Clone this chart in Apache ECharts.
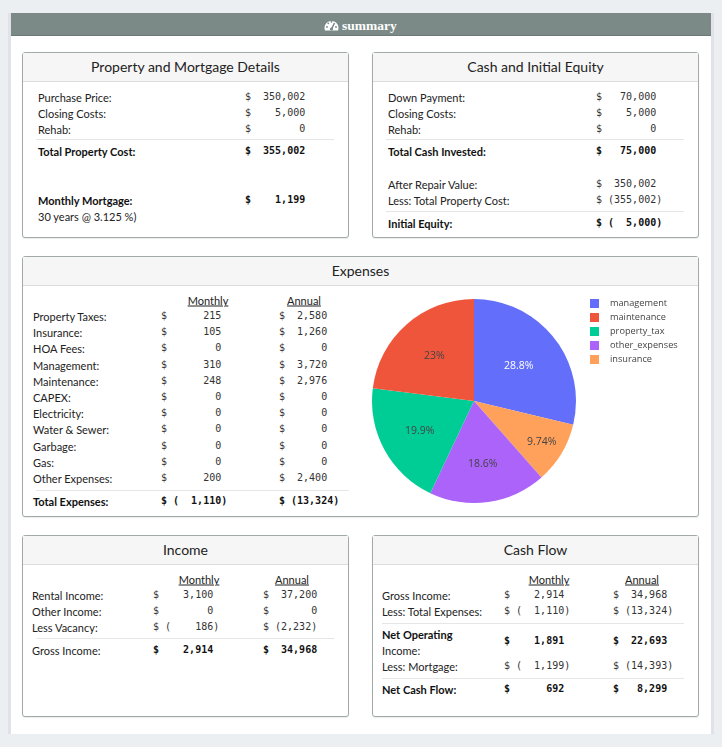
<!DOCTYPE html>
<html>
<head lang="en">
    <meta charset="UTF-8">
    <title>summary</title>
    <script src="https://cdn.jsdelivr.net/npm/echarts@6/dist/echarts.min.js"></script>
    <style>
        body{margin:0;width:722px;height:747px;background:#eceff1;position:relative;overflow:hidden;font-family:Lato,"Noto Sans",sans-serif;color:#222;}
        #panel{position:absolute;left:8px;top:13px;width:706px;height:721px;background:#fff;border-left:3px solid #e0e1e9;border-right:3px solid #e0e1e9;box-sizing:border-box;}
        #bar{position:absolute;left:11px;top:13px;width:700px;height:23px;background:#7b8a87;border-bottom:1px solid #6c7976;box-sizing:border-box;}
        #barText{position:absolute;left:342px;top:26px;transform:translate(0,-50%);font-family:"Liberation Serif",serif;font-weight:bold;font-size:13.5px;color:#fff;line-height:1;}
        #gauge{position:absolute;left:323px;top:18px;}
        .card{position:absolute;border:1px solid #a2a9a9;border-radius:3px;background:#fff;box-sizing:border-box;box-shadow:0 1px 1px rgba(0,0,0,0.08);}
        .card .hd{height:28px;background:#f6f6f6;border-bottom:1px solid #dcdcdc;}
        .t{position:absolute;white-space:pre;line-height:1;font-size:11px;z-index:2;}
        .title{font-size:14px;color:#222;}
        .num{font-family:"DejaVu Sans Mono",monospace;font-size:10px;color:#333;}
        .b{font-weight:bold;color:#111;}
        .u{text-decoration:underline;}
        .sep{position:absolute;height:0;border-top:1.5px solid #e6e6e6;z-index:2;}
        #pie{position:absolute;left:350px;top:285px;width:346px;height:229px;z-index:3;}
    </style>
</head>
<body>
<div id="panel"></div>
<div id="bar"></div>
<svg id="gauge" width="17" height="14" viewBox="0 0 17 14">
    <path d="M2 12.5 A7 7 0 1 1 15 12.5 Z" fill="#fff"/>
    <line x1="8.5" y1="11" x2="11.5" y2="5" stroke="#7b8a87" stroke-width="1.6"/>
    <circle cx="8.5" cy="11" r="1.6" fill="#7b8a87"/>
    <circle cx="4" cy="9" r="0.9" fill="#7b8a87"/>
    <circle cx="5.3" cy="5.3" r="0.9" fill="#7b8a87"/>
    <circle cx="8.5" cy="3.8" r="0.9" fill="#7b8a87"/>
    <circle cx="13" cy="9" r="0.9" fill="#7b8a87"/>
</svg>
<div id="barText">summary</div>
<div id="pie"></div>
<script type="text/javascript">
    // property and mortgage
    var propLabels = ['Purchase Price:', 'Closing Costs:', 'Rehab:'];
    var propValues = [350002, 5000, 0];
    var totalPropertyCost = 355002;
    var monthlyMortgage = 1199;
    var mortgageNote = '30 years @ 3.125 %)';
    // cash and equity
    var cashLabels = ['Down Payment:', 'Closing Costs:', 'Rehab:'];
    var cashValues = [70000, 5000, 0];
    var totalCashInvested = 75000;
    var equityLabels = ['After Repair Value:', 'Less: Total Property Cost:'];
    var equityValues = [350002, -355002];
    var initialEquity = -5000;
    // expenses
    var expenseLabels = ['Property Taxes:', 'Insurance:', 'HOA Fees:', 'Management:', 'Maintenance:', 'CAPEX:',
        'Electricity:', 'Water & Sewer:', 'Garbage:', 'Gas:', 'Other Expenses:'];
    var expenseMonthly = [215, 105, 0, 310, 248, 0, 0, 0, 0, 0, 200];
    var expenseAnnual = [2580, 1260, 0, 3720, 2976, 0, 0, 0, 0, 0, 2400];
    var totalExpenses = [-1110, -13324];
    // pie (legend order) and the clockwise order the slices are drawn in
    var pieNames = ['management', 'maintenance', 'property_tax', 'other_expenses', 'insurance'];
    var pieValues = [310, 248, 215, 200, 105];
    var pieColors = ['#636efa', '#EF553B', '#00cc96', '#ab63fa', '#FFA15A'];
    var sliceOrder = ['management', 'insurance', 'other_expenses', 'property_tax', 'maintenance'];
    // income
    var incomeLabels = ['Rental Income:', 'Other Income:', 'Less Vacancy:'];
    var incomeMonthly = [3100, 0, -186];
    var incomeAnnual = [37200, 0, -2232];
    var grossIncome = [2914, 34968];
    // cash flow
    var flowLabels = ['Gross Income:', 'Less: Total Expenses:', 'Net Operating', 'Less: Mortgage:', 'Net Cash Flow:'];
    var flowMonthly = [2914, -1110, 1891, -1199, 692];
    var flowAnnual = [34968, -13324, 22693, -14393, 8299];

    function put(x, y, s, cls, align) {
        var e = document.createElement('div');
        e.className = 't ' + (cls || '');
        e.textContent = s;
        e.style.left = x + 'px';
        e.style.top = y + 'px';
        e.style.transform = align === 'c' ? 'translate(-50%,-50%)' : 'translate(0,-50%)';
        document.body.appendChild(e);
    }
    function card(x, y, w, h, title) {
        var c = document.createElement('div');
        c.className = 'card';
        c.style.cssText = 'left:' + x + 'px;top:' + y + 'px;width:' + w + 'px;height:' + h + 'px';
        c.innerHTML = '<div class="hd"></div>';
        document.body.appendChild(c);
        put(x + w / 2, y + 15, title, 'title', 'c');
    }
    function sep(x1, x2, y) {
        var s = document.createElement('div');
        s.className = 'sep';
        s.style.cssText = 'left:' + x1 + 'px;top:' + y + 'px;width:' + (x2 - x1) + 'px';
        document.body.appendChild(s);
    }
    function money(v, pos, neg) {
        var n = Math.abs(v).toLocaleString('en-US');
        return v < 0 ? '$ (' + n.padStart(neg) + ')' : '$' + n.padStart(pos);
    }
    function val(x, y, v, pos, neg, bold) {
        put(x, y, money(v, pos, neg), 'num' + (bold ? ' b' : ''));
    }

    // cards
    card(22, 52, 327, 186, 'Property and Mortgage Details');
    card(372, 52, 327, 186, 'Cash and Initial Equity');
    card(22, 256, 677, 261, 'Expenses');
    card(22, 535, 327, 182, 'Income');
    card(372, 535, 327, 182, 'Cash Flow');

    // property and mortgage details
    var rowY = [96.5, 112.5, 128.5];
    for (var i = 0; i < propLabels.length; i++) {
        put(38, rowY[i], propLabels[i]);
        val(245, rowY[i], propValues[i], 9, 7);
    }
    sep(36, 334, 139);
    put(38, 151, 'Total Property Cost:', 'b');
    val(245, 151, totalPropertyCost, 9, 7, true);
    put(38, 199.5, 'Monthly Mortgage:', 'b');
    val(245, 199.5, monthlyMortgage, 9, 7, true);
    put(38, 215.5, mortgageNote);

    // cash and initial equity
    for (var i = 0; i < cashLabels.length; i++) {
        put(388, rowY[i], cashLabels[i]);
        val(596, rowY[i], cashValues[i], 9, 7);
    }
    sep(386, 684, 139);
    put(388, 151, 'Total Cash Invested:', 'b');
    val(596, 151, totalCashInvested, 9, 7, true);
    var eqY = [183.5, 199.5];
    for (var i = 0; i < equityLabels.length; i++) {
        put(388, eqY[i], equityLabels[i]);
        val(596, eqY[i], equityValues[i], 9, 7);
    }
    sep(386, 684, 210.5);
    put(388, 222.5, 'Initial Equity:', 'b');
    val(596, 222.5, initialEquity, 9, 7, true);

    // expenses table
    put(208, 300, 'Monthly', 'u', 'c');
    put(304, 300, 'Annual', 'u', 'c');
    for (var i = 0; i < expenseLabels.length; i++) {
        var y = 316 + i * 16.2;
        put(33, y, expenseLabels[i]);
        val(161, y, expenseMonthly[i], 9, 7);
        val(279, y, expenseAnnual[i], 7, 6);
    }
    sep(36, 349, 489.5);
    put(33, 501, 'Total Expenses:', 'b');
    val(161, 501, totalExpenses[0], 9, 7, true);
    val(279, 501, totalExpenses[1], 7, 6, true);

    // income
    put(199, 579, 'Monthly', 'u', 'c');
    put(292, 579, 'Annual', 'u', 'c');
    var incY = [595, 611, 627];
    for (var i = 0; i < incomeLabels.length; i++) {
        put(32, incY[i], incomeLabels[i]);
        val(153, incY[i], incomeMonthly[i], 9, 7);
        val(263, incY[i], incomeAnnual[i], 8, 5);
    }
    sep(37, 334, 638);
    put(32, 649.5, 'Gross Income:', '');
    val(153, 649.5, grossIncome[0], 9, 7, true);
    val(263, 649.5, grossIncome[1], 8, 5, true);

    // cash flow
    put(549, 579, 'Monthly', 'u', 'c');
    put(642, 579, 'Annual', 'u', 'c');
    var flowY = [595, 611, 641, 666, 688.5];
    for (var i = 0; i < flowLabels.length; i++) {
        var bold = (i === 2 || i === 4);
        if (i === 2) {
            put(382, 633.5, flowLabels[i], 'b');
            put(382, 649.5, 'Income:');
        } else {
            put(382, flowY[i], flowLabels[i], bold ? 'b' : '');
        }
        val(504, flowY[i], flowMonthly[i], 9, 7, bold);
        val(613, flowY[i], flowAnnual[i], 8, 6, bold);
    }
    sep(382, 684, 622.5);
    sep(382, 684, 677.5);

    // pie chart
    var cx = 124, cy = 116, pieR = 102;
    var pieData = [];
    var pieTotal = 0;
    for (var j = 0; j < sliceOrder.length; j++) {
        var i = pieNames.indexOf(sliceOrder[j]);
        pieTotal += pieValues[i];
        pieData.push({
            name: pieNames[i], value: pieValues[i],
            itemStyle: {color: pieColors[i]},
            label: {color: i === 0 ? '#fff' : '#444'}
        });
    }
    var myChart = echarts.init(document.getElementById('pie'));
    var option = {
        animation: false,
        legend: {
            orient: 'vertical', left: 235, top: 9,
            itemWidth: 9, itemHeight: 9, itemGap: 5,
            icon: 'rect', selectedMode: false,
            textStyle: {fontFamily: 'Open Sans', fontSize: 9.2, color: '#444', padding: [0, 0, 0, 6]},
            data: pieNames
        },
        series: [{
            type: 'pie',
            center: [cx, cy],
            radius: [0, pieR],
            startAngle: 90,
            clockwise: true,
            avoidLabelOverlap: false,
            label: {
                show: true, position: 'inside',
                fontFamily: 'Open Sans', fontSize: 10.5,
                formatter: function (p) {
                    return parseFloat(p.percent.toPrecision(3)) + '%';
                }
            },
            // narrow slices push their text further out, as the original does
            labelLayout: function (p) {
                var r = p.labelRect;
                var dx = r.x + r.width / 2 - cx, dy = r.y + r.height / 2 - cy;
                var len = Math.sqrt(dx * dx + dy * dy);
                var theta = 2 * Math.PI * pieData[p.dataIndex].value / pieTotal;
                var d = pieR * (0.449 + 0.199 / theta);
                return {x: cx + dx / len * d, y: cy + dy / len * d, align: 'center', verticalAlign: 'middle'};
            },
            labelLine: {show: false},
            emphasis: {disabled: true},
            data: pieData
        }]
    };
    myChart.setOption(option);
</script>
</body>
</html>
